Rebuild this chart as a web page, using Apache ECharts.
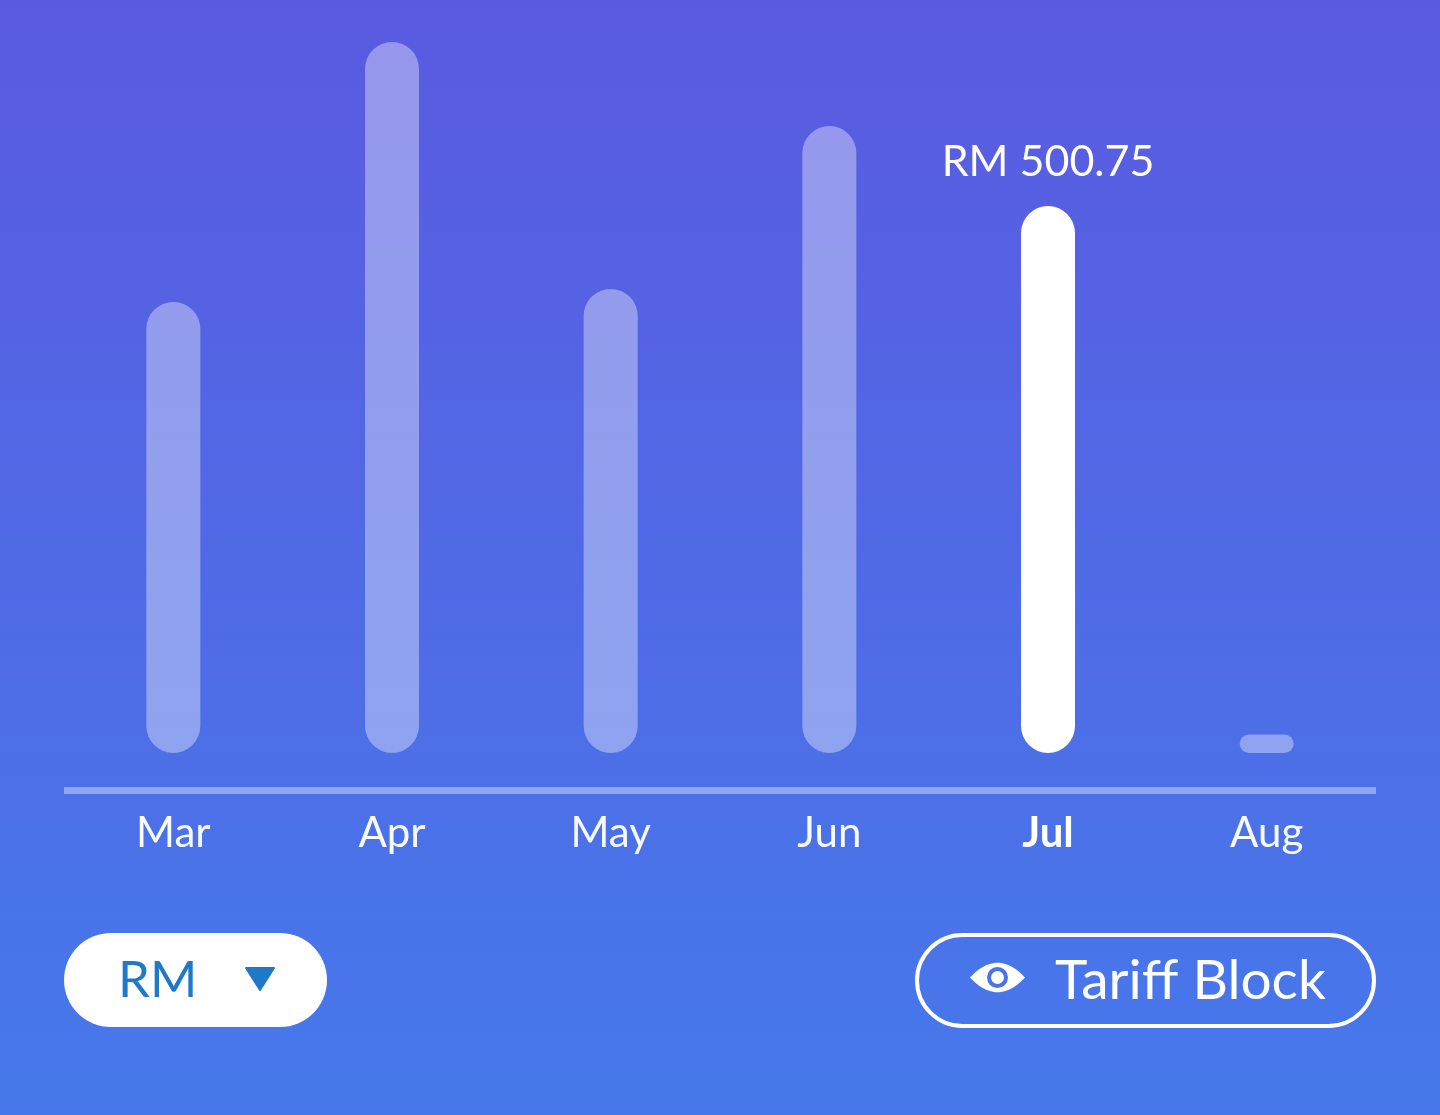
<!DOCTYPE html>
<html>
<head>
<meta charset="utf-8">
<script src="https://cdn.jsdelivr.net/npm/echarts@6/dist/echarts.min.js"></script>
<style>
html,body{margin:0;padding:0;width:1440px;height:1115px;overflow:hidden;background:#5060e4;}
#chart{width:1440px;height:1115px;}
</style>
</head>
<body>
<div id="chart"></div>
<script>
const months = ['Mar', 'Apr', 'May', 'Jun', 'Jul', 'Aug'];
const amounts = [412.9, 650.9, 424.8, 574.0, 500.75, 17];
const selectedMonth = 'Jul';
const currencyLabel = 'RM';
const buttonLabel = 'Tariff Block';

const FONT = 'Lato, "Open Sans", sans-serif';
const chart = echarts.init(document.getElementById('chart'));

const barData = amounts.map((v, i) => {
  const sel = months[i] === selectedMonth;
  return {
    value: v,
    itemStyle: { color: sel ? '#ffffff' : 'rgba(255,255,255,0.37)' },
    label: sel ? {
      show: true,
      position: 'top',
      distance: 22,
      color: '#ffffff',
      fontSize: 43,
      fontFamily: FONT,
      formatter: p => 'RM ' + p.value.toFixed(2)
    } : { show: false }
  };
});

const xData = months.map(m => m === selectedMonth
  ? { value: m, textStyle: { fontWeight: 'bold', color: '#ffffff' } }
  : { value: m });

// eye icon outline (almond shape from two quadratic curves)
function eyePoints(cx, cy, hw, hh) {
  const pts = [];
  const x0 = cx - hw, x1 = cx + hw;
  for (let k = 0; k <= 24; k++) {
    const t = k / 24;
    pts.push([(1 - t) * (1 - t) * x0 + 2 * t * (1 - t) * cx + t * t * x1,
              (1 - t) * (1 - t) * cy + 2 * t * (1 - t) * (cy - 2 * hh) + t * t * cy]);
  }
  for (let k = 1; k < 24; k++) {
    const t = k / 24;
    pts.push([(1 - t) * (1 - t) * x1 + 2 * t * (1 - t) * cx + t * t * x0,
              (1 - t) * (1 - t) * cy + 2 * t * (1 - t) * (cy + 2 * hh) + t * t * cy]);
  }
  return pts;
}

chart.setOption({
  backgroundColor: {
    type: 'linear', x: 0, y: 0, x2: 0, y2: 1,
    colorStops: [{ offset: 0, color: '#5a5ae0' }, { offset: 1, color: '#4679eb' }]
  },
  animation: false,
  grid: { left: 64, right: 64, top: 40, bottom: 325, containLabel: false },
  xAxis: {
    type: 'category',
    data: xData,
    axisLine: { show: true, onZero: false, lineStyle: { color: 'rgba(255,255,255,0.38)', width: 7, cap: 'butt' } },
    axisTick: { show: false },
    axisLabel: { color: 'rgba(255,255,255,0.97)', fontSize: 42, fontFamily: FONT, margin: 22 },
    splitLine: { show: false }
  },
  yAxis: {
    type: 'value',
    min: -33.87,
    max: 652.7,
    show: false,
    splitLine: { show: false }
  },
  series: [{
    type: 'bar',
    data: barData,
    barWidth: 54,
    itemStyle: { borderRadius: 27 }
  }],
  graphic: [
    { type: 'rect', shape: { x: 64, y: 933, width: 263, height: 94, r: 47 }, style: { fill: '#ffffff' } },
    { type: 'text', x: 118, y: 981, style: { text: currencyLabel, fill: '#1f78c8', fontSize: 51, fontFamily: FONT, verticalAlign: 'middle', align: 'left' } },
    { type: 'polygon', shape: { points: [[246, 968], [274, 968], [260, 990]] }, style: { fill: '#1f78c8', stroke: '#1f78c8', lineWidth: 2, lineJoin: 'round' } },
    { type: 'rect', shape: { x: 917, y: 935, width: 457, height: 91, r: 45.5 }, style: { fill: 'none', stroke: '#ffffff', lineWidth: 4 } },
    { type: 'polygon', shape: { points: eyePoints(997.5, 977.5, 27.5, 14.75) }, style: { fill: '#ffffff' } },
    { type: 'circle', shape: { cx: 997.5, cy: 977.5, r: 10.5 }, style: { fill: '#4a72e9' } },
    { type: 'circle', shape: { cx: 997.5, cy: 977.5, r: 6.5 }, style: { fill: '#ffffff' } },
    { type: 'text', x: 1055, y: 981, style: { text: buttonLabel, fill: '#ffffff', fontSize: 55, fontFamily: FONT, verticalAlign: 'middle', align: 'left' } }
  ]
});
</script>
</body>
</html>
